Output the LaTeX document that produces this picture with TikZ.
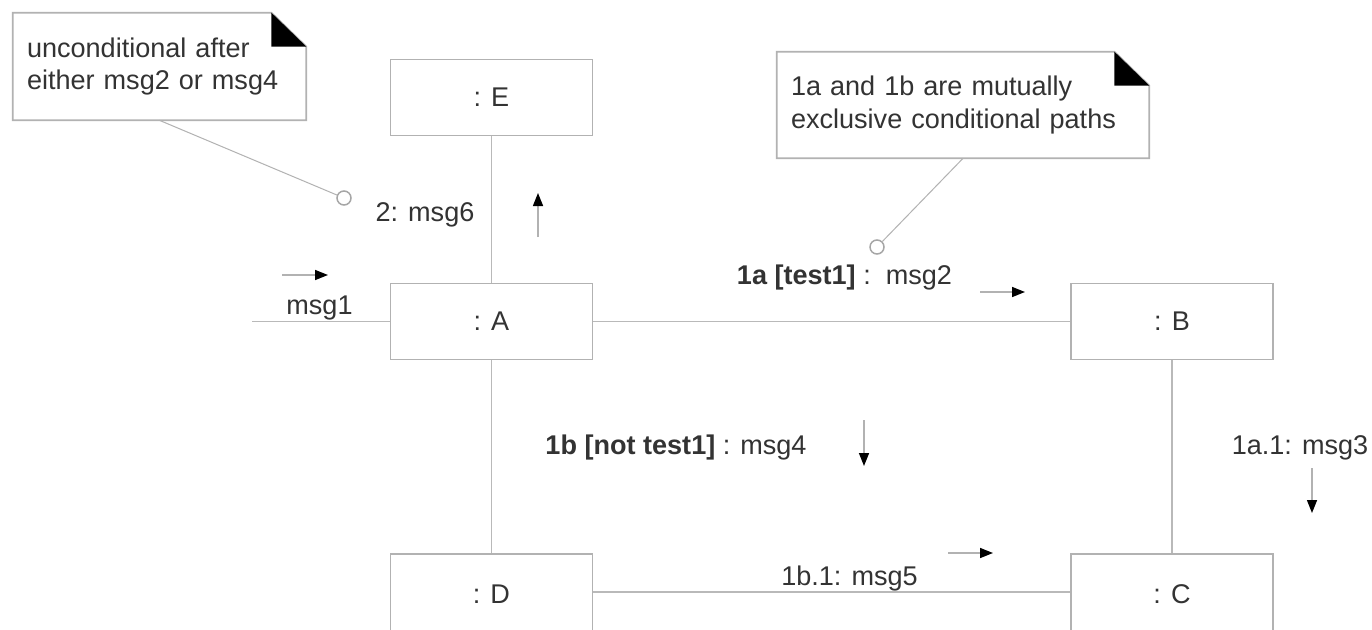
\documentclass[tikz,border=0pt]{standalone}
\usepackage{fontspec}
\setmainfont{Liberation Sans}
\usepackage{tikz}
\usetikzlibrary{calc,arrows.meta}

\begin{document}
\begin{tikzpicture}[x=0.02cm,y=-0.02cm,
  font=\fontsize{15.4}{18.4}\selectfont,text=black!80,
  obj/.style={draw=gray!60,line width=0.035cm,fill=white,minimum width=4.04cm,minimum height=1.52cm,inner sep=0pt},
  low/.style={minimum height=1.6cm},
  link/.style={draw=gray!55,line width=0.035cm},
  lbl/.style={inner sep=0pt},
  note/.style={inner xsep=0.28cm,inner ysep=0pt,align=left},
  tie/.style={draw=gray!60,line width=0.02cm},
  ring/.style={circle,draw=gray!70,line width=0.03cm,fill=white,minimum size=0.28cm,inner sep=0pt},
  msg/.style={draw=gray!60,line width=0.03cm,-{Triangle[length=0.26cm,width=0.2cm,black]}}]
\clip (0,0) rectangle (1372,629);
\fill[white] (0,0) rectangle (1372,629);

\node[obj] (E) at (491.5,97.5) {: E};
\node[obj] (A) at (491.5,321.5) {: A};
\node[obj] (B) at (1172,321.5) {: B};
\node[obj,low] (D) at (491.5,594) {: D};
\node[obj,low] (C) at (1172,594) {: C};
\coordinate (in) at (252,321.5);

\draw[link] (E) -- (A);
\draw[link] (in) -- (A);
\draw[link] (A) -- (B);
\draw[link] (A) -- (D);
\draw[link] (B) -- (C);
\draw[link] ([yshift=0.04cm]D.east) -- ([yshift=0.04cm]C.west);

\node[note,text width=5.3cm,minimum width=5.86cm,minimum height=2.14cm] (n1) at (159.5,66.5)
  {unconditional after\\either msg2 or msg4};
\node[note,text width=6.88cm,minimum width=7.44cm,minimum height=2.12cm] (n2) at (963,105)
  {1a and 1b are mutually\\exclusive conditional paths};
\foreach \n in {n1,n2} {
\draw[draw=gray!60,line width=0.035cm] (\n.north west) -- ([xshift=-0.7cm]\n.north east)
  -- ([yshift=-0.68cm]\n.north east) -- (\n.south east) -- (\n.south west) -- cycle;
\fill[black] ([xshift=-0.7cm]\n.north east) -- ([xshift=-0.7cm,yshift=-0.68cm]\n.north east)
  -- ([yshift=-0.68cm]\n.north east) -- cycle;
}
\node[ring] (r1) at (344,198) {};
\node[ring] (r2) at (877,247) {};
\draw[tie] (n1.south) -- (r1);
\draw[tie] (n2.south) -- (r2);

\node[lbl] (m1) at (319.5,308) {msg1};
\node[lbl] (m6) at (425,215) {2: msg6};
\node[lbl] (m2) at (844.5,277) {\textbf{1a [test1]} :\ \ msg2};
\node[lbl] (m4) at (676,447) {\textbf{1b [not test1]} : msg4};
\node[lbl] (m3) at (1300,448) {1a.1: msg3};
\node[lbl] (m5) at (849.5,578) {1b.1: msg5};

\draw[msg] (282,275) -- (328,275);
\draw[msg] (538,237) -- (538,193);
\draw[msg] (980,292) -- (1025,292);
\draw[msg] (864,420) -- (864,466);
\draw[msg] (1312,468) -- (1312,513);
\draw[msg] (948,553) -- (993,553);
\end{tikzpicture}
\end{document}
